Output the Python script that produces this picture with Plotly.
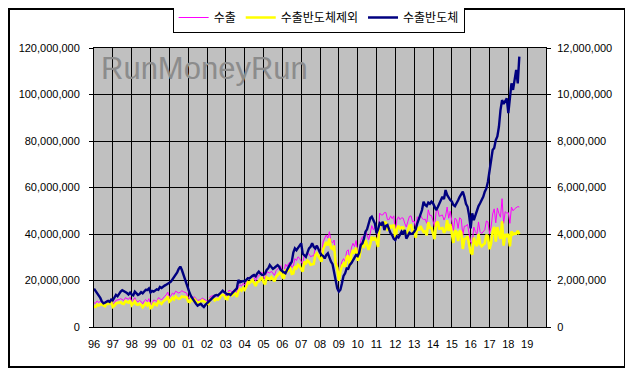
import plotly.graph_objects as go

# Monthly values, Jan 1996 .. Aug 2018 (unit: million, i.e. axis value / 1,000,000)
export_total = [
    10.4, 10.2, 11.2, 10.6, 11.0, 10.8, 10.3, 10.0, 11.4, 11.0, 11.3, 11.8,   # 1996
    9.8, 10.4, 11.5, 11.6, 11.8, 12.2, 11.6, 11.4, 12.6, 12.4, 11.9, 12.8,    # 1997
    10.8, 11.5, 12.6, 11.2, 10.9, 11.4, 11.0, 9.9, 11.2, 11.8, 10.9, 12.2,    # 1998
    9.6, 10.0, 11.6, 11.4, 11.0, 12.6, 12.3, 11.6, 12.6, 13.2, 13.8, 15.0,    # 1999
    12.8, 13.4, 14.6, 14.0, 15.4, 14.8, 14.6, 15.0, 15.6, 15.2, 14.8, 14.6,   # 2000
    12.6, 12.2, 13.4, 12.6, 13.0, 12.4, 11.4, 11.6, 11.8, 12.4, 11.8, 11.6,   # 2001
    11.2, 11.0, 13.0, 13.4, 13.6, 12.8, 13.4, 13.2, 13.8, 15.2, 15.4, 15.0,   # 2002
    13.6, 13.4, 15.8, 15.6, 15.0, 15.8, 16.0, 14.6, 17.4, 18.2, 17.6, 18.8,   # 2003
    18.0, 19.2, 21.4, 21.0, 21.6, 22.4, 21.2, 19.8, 21.6, 22.0, 22.8, 23.6,   # 2004
    21.6, 20.6, 23.8, 23.4, 23.2, 24.0, 22.8, 22.2, 24.2, 24.8, 25.6, 26.4,   # 2005
    24.0, 23.2, 27.0, 26.0, 27.4, 28.0, 25.6, 26.2, 29.4, 28.6, 30.2, 29.6,   # 2006
    28.2, 27.0, 31.2, 30.4, 31.8, 31.4, 30.2, 30.6, 30.6, 34.2, 35.2, 33.8,   # 2007
    32.6, 31.2, 36.6, 38.2, 39.6, 38.2, 41.0, 36.8, 36.2, 37.4, 29.2, 27.0,   # 2008
    21.4, 25.4, 28.2, 29.4, 28.2, 32.6, 33.2, 28.6, 34.0, 36.0, 34.6, 37.2,   # 2009
    31.6, 33.0, 37.2, 38.8, 38.4, 41.4, 39.4, 37.6, 40.2, 43.6, 41.8, 43.0,   # 2010
    41.0, 38.6, 49.0, 48.2, 48.2, 49.2, 49.2, 46.2, 46.2, 47.8, 46.6, 47.8,   # 2011
    41.2, 46.0, 47.4, 46.2, 47.0, 46.8, 44.6, 43.0, 45.4, 47.6, 47.8, 45.2,   # 2012
    45.6, 42.6, 47.4, 46.2, 48.2, 46.8, 46.2, 46.4, 44.6, 50.4, 48.0, 48.0,   # 2013
    45.6, 43.0, 49.6, 50.4, 47.6, 47.8, 48.2, 46.0, 47.6, 51.6, 46.8, 49.8,   # 2014
    45.2, 41.4, 46.8, 46.2, 42.4, 47.0, 46.4, 39.4, 43.4, 43.4, 44.2, 40.8,   # 2015
    36.4, 36.0, 43.0, 41.0, 39.8, 45.2, 41.0, 40.2, 40.8, 41.8, 45.6, 45.2,   # 2016
    40.2, 43.0, 48.6, 50.8, 44.8, 51.2, 48.8, 47.2, 55.2, 44.6, 49.6, 49.0,   # 2017
    49.2, 44.6, 51.6, 50.0, 50.8, 51.2, 51.8, 51.6,                           # 2018
]

export_ex_semi = [
    8.75, 8.65, 9.70, 9.25, 9.75, 9.70, 9.28, 8.95, 10.30, 9.88, 10.22, 10.62,
    8.65, 9.15, 10.12, 10.28, 10.35, 10.68, 10.02, 9.85, 11.10, 10.94, 10.50, 11.32,
    9.40, 10.14, 11.08, 9.75, 9.52, 9.98, 9.50, 8.45, 9.65, 10.20, 9.31, 10.54,
    8.12, 8.45, 10.08, 9.82, 9.38, 11.00, 10.58, 9.92, 10.85, 11.42, 11.98, 13.12,
    10.90, 11.45, 12.55, 11.90, 13.15, 12.45, 12.10, 12.40, 13.15, 12.95, 12.78, 12.82,
    11.00, 10.75, 12.10, 11.42, 11.91, 11.40, 10.48, 10.65, 10.80, 11.48, 10.94, 10.65,
    10.18, 9.90, 11.84, 12.16, 12.30, 11.45, 12.02, 11.84, 12.38, 13.70, 13.84, 13.50,
    12.15, 12.00, 14.38, 14.22, 13.55, 14.28, 14.42, 12.94, 15.38, 16.28, 15.65, 16.82,
    16.05, 17.18, 19.30, 18.91, 19.44, 20.20, 18.96, 17.62, 19.30, 19.62, 20.50, 21.36,
    19.36, 18.30, 21.35, 20.88, 20.53, 21.42, 20.30, 19.65, 21.58, 22.14, 23.01, 23.95,
    21.60, 20.85, 24.69, 23.55, 24.80, 25.30, 22.80, 23.00, 26.02, 25.30, 26.80, 26.10,
    24.60, 23.85, 28.10, 27.38, 28.60, 28.02, 26.75, 27.00, 27.15, 30.82, 31.70, 30.50,
    29.40, 28.10, 33.55, 35.25, 36.50, 35.03, 38.05, 33.99, 33.50, 35.02, 27.18, 25.34,
    19.88, 23.80, 26.32, 27.20, 25.89, 30.08, 30.70, 25.93, 31.25, 33.12, 31.65, 34.10,
    28.55, 29.80, 33.67, 35.20, 34.60, 37.30, 35.20, 33.20, 35.52, 38.86, 37.20, 38.55,
    36.97, 34.40, 44.54, 43.80, 43.67, 45.03, 44.85, 41.81, 42.00, 43.77, 42.65, 44.00,
    37.46, 42.10, 43.55, 42.25, 42.90, 42.80, 40.43, 39.20, 41.45, 43.55, 43.80, 41.18,
    41.50, 38.40, 42.94, 41.53, 43.40, 41.77, 40.81, 41.15, 39.40, 45.05, 42.70, 42.61,
    40.28, 37.80, 44.57, 45.25, 42.30, 42.35, 42.60, 40.50, 41.71, 45.92, 41.25, 44.34,
    39.80, 36.15, 41.60, 40.90, 36.95, 41.40, 40.70, 33.58, 37.80, 38.10, 39.03, 36.00,
    32.16, 31.11, 38.40, 36.20, 34.77, 40.00, 35.68, 34.75, 35.20, 35.98, 39.64, 38.95,
    33.45, 35.96, 40.99, 43.10, 36.76, 43.00, 40.19, 37.87, 45.44, 35.00, 39.90, 39.17,
    40.00, 34.70, 41.12, 39.80, 40.18, 40.14, 41.32, 39.97,
]

export_semi = [
    1.65, 1.55, 1.50, 1.35, 1.25, 1.10, 1.02, 1.05, 1.10, 1.12, 1.08, 1.18,
    1.15, 1.25, 1.38, 1.32, 1.45, 1.52, 1.58, 1.55, 1.50, 1.46, 1.40, 1.48,
    1.40, 1.36, 1.52, 1.45, 1.38, 1.42, 1.50, 1.45, 1.55, 1.60, 1.59, 1.66,
    1.48, 1.55, 1.52, 1.58, 1.62, 1.60, 1.72, 1.68, 1.75, 1.78, 1.82, 1.88,
    1.90, 1.95, 2.05, 2.10, 2.25, 2.35, 2.50, 2.60, 2.45, 2.25, 2.02, 1.78,
    1.60, 1.45, 1.30, 1.18, 1.09, 1.00, 0.92, 0.95, 1.00, 0.92, 0.86, 0.95,
    1.02, 1.10, 1.16, 1.24, 1.30, 1.35, 1.38, 1.36, 1.42, 1.50, 1.56, 1.50,
    1.45, 1.40, 1.42, 1.38, 1.45, 1.52, 1.58, 1.66, 2.02, 1.92, 1.95, 1.98,
    1.95, 2.02, 2.10, 2.09, 2.16, 2.20, 2.24, 2.18, 2.30, 2.38, 2.30, 2.24,
    2.24, 2.30, 2.45, 2.52, 2.67, 2.58, 2.50, 2.55, 2.62, 2.66, 2.59, 2.45,
    2.40, 2.35, 2.31, 2.45, 2.60, 2.70, 2.80, 3.20, 3.38, 3.30, 3.40, 3.50,
    3.60, 3.15, 3.10, 3.02, 3.20, 3.38, 3.45, 3.60, 3.45, 3.38, 3.50, 3.30,
    3.20, 3.10, 3.05, 2.95, 3.10, 3.17, 2.95, 2.81, 2.70, 2.38, 2.02, 1.66,
    1.52, 1.60, 1.88, 2.20, 2.31, 2.52, 2.50, 2.67, 2.75, 2.88, 2.95, 3.10,
    3.05, 3.20, 3.53, 3.60, 3.80, 4.10, 4.20, 4.40, 4.68, 4.74, 4.60, 4.45,
    4.03, 4.20, 4.46, 4.40, 4.53, 4.17, 4.35, 4.39, 4.20, 4.03, 3.95, 3.80,
    3.74, 3.90, 3.85, 3.95, 4.10, 4.00, 4.17, 3.80, 3.95, 4.05, 4.00, 4.02,
    4.10, 4.20, 4.46, 4.67, 4.80, 5.03, 5.39, 5.25, 5.20, 5.35, 5.30, 5.39,
    5.32, 5.20, 5.03, 5.15, 5.30, 5.45, 5.60, 5.50, 5.89, 5.68, 5.55, 5.46,
    5.40, 5.25, 5.20, 5.30, 5.45, 5.60, 5.70, 5.82, 5.60, 5.30, 5.17, 4.80,
    4.24, 4.89, 4.60, 4.80, 5.03, 5.20, 5.32, 5.45, 5.60, 5.82, 5.96, 6.25,
    6.75, 7.04, 7.61, 7.70, 8.04, 8.20, 8.61, 9.33, 9.76, 9.60, 9.70, 9.83,
    9.20, 9.90, 10.48, 10.20, 10.62, 11.06, 10.48, 11.63,
]

year_ticks = list(range(1996, 2020))
year_labels = ["96", "97", "98", "99", "00", "01", "02", "03", "04", "05", "06", "07",
               "08", "09", "10", "11", "12", "13", "14", "15", "16", "17", "18", "19"]
series_names = ["수출", "수출반도체제외", "수출반도체"]

start_year = 1996
x_pos = [start_year + i / 12 for i in range(len(export_total))]
UNIT = 1_000_000

fig = go.Figure()
fig.add_trace(go.Scatter(x=x_pos, y=[v * UNIT for v in export_total], name=series_names[0],
                         mode="lines", line=dict(color="#FF00FF", width=1)))
fig.add_trace(go.Scatter(x=x_pos, y=[v * UNIT for v in export_ex_semi], name=series_names[1],
                         mode="lines", line=dict(color="#FFFF00", width=2.6)))
fig.add_trace(go.Scatter(x=x_pos, y=[v * UNIT for v in export_semi], name=series_names[2],
                         mode="lines", line=dict(color="#000080", width=2.4), yaxis="y2"))

tick_font = dict(family="Liberation Sans, Arial, sans-serif", size=11, color="black")

# page body has an 8px default margin; figure is sized to fill the rest of the window
W, H = 625, 361
ML, MR, MT, MB = 86, 87, 40, 42
PW, PH = W - ML - MR, H - MT - MB

fig.update_layout(
    width=W, height=H,
    margin=dict(l=ML, r=MR, t=MT, b=MB, autoexpand=False),
    paper_bgcolor="white", plot_bgcolor="#C0C0C0",
    showlegend=True,
    legend=dict(orientation="h", x=0.497, xanchor="center", y=(PH + MT - 9.5) / PH,
                yanchor="middle",
                bgcolor="white", bordercolor="black", borderwidth=1,
                font=dict(family="Noto Sans CJK KR, sans-serif", size=12, color="black"),
                itemwidth=30, tracegroupgap=0),
    xaxis=dict(range=[1996, 2020], tickvals=year_ticks, ticktext=year_labels,
               showgrid=True, gridcolor="black", gridwidth=1, zeroline=False,
               showline=True, linecolor="black", linewidth=1, mirror=True,
               ticks="", tickfont=tick_font, ticklabelstandoff=7, automargin=False),
    yaxis=dict(range=[0, 120_000_000], dtick=20_000_000, tickformat=",",
               showgrid=True, gridcolor="black", gridwidth=1, zeroline=False,
               showline=True, linecolor="black", linewidth=1, mirror=True,
               ticks="outside", ticklen=4, tickcolor="black",
               tickfont=tick_font, ticklabelstandoff=7, automargin=False),
    yaxis2=dict(range=[0, 12_000_000], dtick=2_000_000, tickformat=",",
                overlaying="y", side="right", showgrid=False, zeroline=False,
                ticks="outside", ticklen=4, tickcolor="black",
                tickfont=tick_font, ticklabelstandoff=4, automargin=False),
    annotations=[dict(text="RunMoneyRun", xref="paper", yref="paper",
                      x=0.012, y=0.997, xanchor="left", yanchor="top", showarrow=False,
                      font=dict(family="Liberation Sans, Arial, sans-serif", size=31,
                                color="#8c8c8c"))],
    shapes=[dict(type="rect", xref="paper", yref="paper",
                 x0=(1 - ML) / PW, x1=(617 - ML) / PW,
                 y0=(PH + MT - 359) / PH, y1=(PH + MT - 1) / PH,
                 line=dict(color="black", width=2), fillcolor="rgba(0,0,0,0)",
                 layer="below")],
)

fig.write_html("out.html")
